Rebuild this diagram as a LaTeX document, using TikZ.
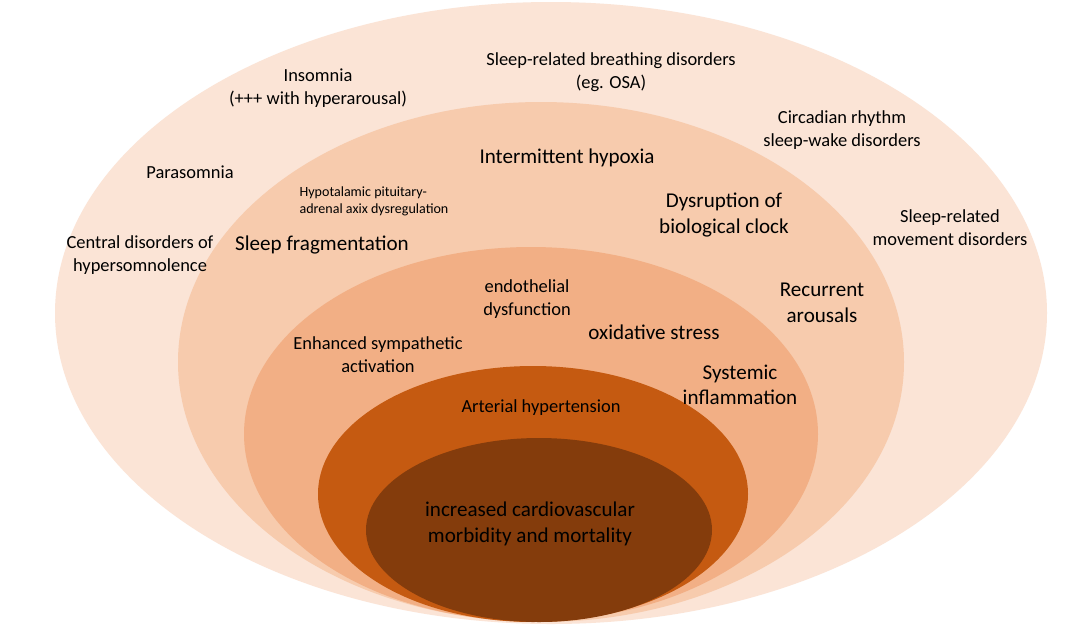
\documentclass[tikz,border=0pt]{standalone}
\usepackage{fontspec}
\setmainfont{Carlito}
\begin{document}
\begin{tikzpicture}[x=0.02cm,y=-0.02cm,
 lab/.style={font=\fontsize{10.5}{13}\selectfont,align=center,text=black,inner sep=0pt},
 big/.style={font=\fontsize{12}{14.5}\selectfont,align=center,text=black,inner sep=0pt},
 sml/.style={font=\fontsize{8}{9.5}\selectfont,align=left,text=black,inner sep=0pt}]
\definecolor{c1}{HTML}{FBE4D6}
\definecolor{c2}{HTML}{F7CBAD}
\definecolor{c3}{HTML}{F2AF85}
\definecolor{c4}{HTML}{C55A11}
\definecolor{c5}{HTML}{843C0C}
\useasboundingbox[fill=white] (0,0) rectangle (1065,640);
\fill[c1] (551,313) ellipse [x radius=496, y radius=311];
\fill[c2] (541,362) ellipse [x radius=363, y radius=260];
\fill[c3] (531,434) ellipse [x radius=287, y radius=187];
\fill[c4] (533,494) ellipse [x radius=215, y radius=128];
\fill[c5] (539,530) ellipse [x radius=173, y radius=92];
\node[lab] (ins) at (318,88) {Insomnia\\(+++ with hyperarousal)};
\node[lab] (sbd) at (611,72) {Sleep-related breathing disorders\\(eg. OSA)};
\node[lab] (crs) at (842,130) {Circadian rhythm\\sleep-wake disorders};
\node[lab] (par) at (190,172) {Parasomnia};
\node[lab] (cdh) at (140,255) {Central disorders of\\hypersomnolence};
\node[lab] (smd) at (950,228) {Sleep-related\\movement disorders};
\node[big] (ih) at (567,158) {Intermittent hypoxia};
\node[sml] (hpa) at (374,201) {Hypotalamic pituitary-\\adrenal axix dysregulation};
\node[big] (sf) at (322,245) {Sleep fragmentation};
\node[big] (dbc) at (724,215) {Dysruption of\\biological clock};
\node[big] (ra) at (822,303) {Recurrent\\arousals};
\node[lab] (ed) at (527,299) {endothelial\\dysfunction};
\node[big] (os) at (654,332) {oxidative stress};
\node[lab] (esa) at (378,355) {Enhanced sympathetic\\activation};
\node[big] (si) at (740,385) {Systemic\\inflammation};
\node[lab] (ah) at (541,408) {Arterial hypertension};
\node[big] (cv) at (530,524) {increased cardiovascular\\morbidity and mortality};
\end{tikzpicture}
\end{document}
